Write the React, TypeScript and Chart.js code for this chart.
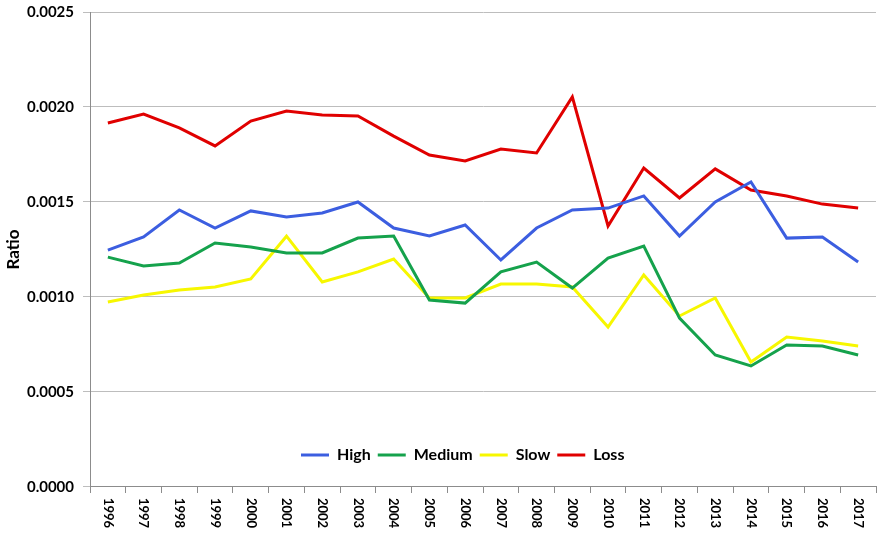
import React, { useEffect, useRef } from "react";
import { Chart, registerables, CategoryScale } from "chart.js";

const years = ["1996","1997","1998","1999","2000","2001","2002","2003","2004","2005","2006","2007","2008","2009","2010","2011","2012","2013","2014","2015","2016","2017"];

const high = [0.001247,0.001316,0.001458,0.001363,0.001453,0.001421,0.001442,0.0015,0.001363,0.001321,0.001379,0.001195,0.001363,0.001458,0.001468,0.001532,0.001321,0.0015,0.001605,0.00131,0.001316,0.001184];
const medium = [0.00121,0.001163,0.001179,0.001284,0.001263,0.001232,0.001232,0.00131,0.001321,0.000984,0.000968,0.001132,0.001184,0.001047,0.001205,0.001268,0.000889,0.000695,0.000637,0.000747,0.000742,0.000695];
const slow = [0.000974,0.00101,0.001037,0.001053,0.001095,0.00132,0.001079,0.001132,0.0012,0.000995,0.000995,0.001068,0.001068,0.001053,0.000842,0.001116,0.0009,0.000995,0.000658,0.000789,0.000768,0.000742];
const loss = [0.001916,0.001963,0.00189,0.001795,0.001926,0.001979,0.001958,0.001953,0.001847,0.001747,0.001716,0.001779,0.001758,0.002053,0.001374,0.001679,0.001521,0.001674,0.001563,0.001532,0.001489,0.001468];

const seriesNames = ["High", "Medium", "Slow", "Loss"];
const seriesColors = ["#3c5ee0", "#15a24c", "#f7f700", "#e00000"];
const yTicks = [0, 0.0005, 0.001, 0.0015, 0.002, 0.0025];

class DownCategoryScale extends CategoryScale {
  static id = "categoryDown";
  _getXAxisLabelAlignment() {
    return "left";
  }
}

Chart.register(...registerables, DownCategoryScale);

const legendPlacer = {
  id: "legendPlacer",
  beforeDraw(chart: any) {
    const lg = chart.legend;
    const ca = chart.chartArea;
    if (!lg || !ca) return;
    lg.left = 294;
    lg.right = ca.right;
    lg.top = ca.bottom - 47;
    lg.bottom = ca.bottom - 8;
    lg.width = lg.right - lg.left;
    lg.height = lg.bottom - lg.top;
  },
};

export default function App() {
  const ref = useRef<HTMLCanvasElement | null>(null);
  useEffect(() => {
    document.body.style.margin = "0";
    const canvas = ref.current;
    if (!canvas) return;
    Chart.defaults.font.family = "Lato, 'Open Sans', sans-serif";
    const allSeries = [high, medium, slow, loss];
    const chart = new Chart(canvas, {
      type: "line",
      data: {
        labels: years,
        datasets: allSeries.map((d, i) => ({
          label: seriesNames[i],
          data: d,
          borderColor: seriesColors[i],
          backgroundColor: seriesColors[i],
          borderWidth: 3,
          pointRadius: 0,
          tension: 0,
          fill: false,
        })),
      },
      options: {
        animation: false,
        responsive: true,
        maintainAspectRatio: false,
        layout: { padding: { left: 0, right: 6, top: 12, bottom: 0 } },
        plugins: {
          tooltip: { enabled: false },
          legend: {
            display: true,
            position: "bottom",
            align: "start",
            maxHeight: 0.001,
            labels: {
              usePointStyle: true,
              pointStyle: "line",
              pointStyleWidth: 28,
              padding: 7,
              color: "#000",
              font: { size: 16, weight: "bold", family: "Lato" },
            },
          },
        },
        scales: {
          x: {
            type: "categoryDown" as any,
            offset: true,
            grid: {
              offset: true,
              drawOnChartArea: false,
              drawTicks: true,
              tickLength: 6,
              color: "#8c8c8c",
            },
            border: { color: "#8c8c8c", width: 1 },
            ticks: {
              autoSkip: false,
              minRotation: -90,
              maxRotation: -90,
              padding: 5,
              color: "#000",
              font: { size: 13, weight: "bold", family: "Lato" },
            },
            afterFit: (s: any) => {
              s.height = 52;
            },
          },
          y: {
            min: 0,
            max: 0.0025,
            afterBuildTicks: (s: any) => {
              s.ticks = yTicks.map((v) => ({ value: v }));
            },
            ticks: {
              stepSize: 0.0005,
              padding: 9,
              color: "#000",
              font: { size: 15, weight: "bold", family: "Lato" },
              callback: (v: any) => Number(v).toFixed(4),
            },
            grid: { color: "#bdbdbd", tickLength: 7, drawTicks: true },
            border: { color: "#8c8c8c", width: 1 },
            title: {
              display: true,
              text: "Ratio",
              color: "#000",
              font: { size: 17, weight: "bold", family: "Lato" },
              padding: { top: 3, bottom: 4 },
            },
            afterFit: (s: any) => {
              s.width = 90;
              s.paddingTop = 0;
              s.paddingBottom = 0;
            },
          },
        },
      },
      plugins: [legendPlacer],
    });
    return () => chart.destroy();
  }, []);
  return (
    <div style={{ position: "relative", width: "882px", height: "539px" }}>
      <canvas ref={ref} />
    </div>
  );
}
